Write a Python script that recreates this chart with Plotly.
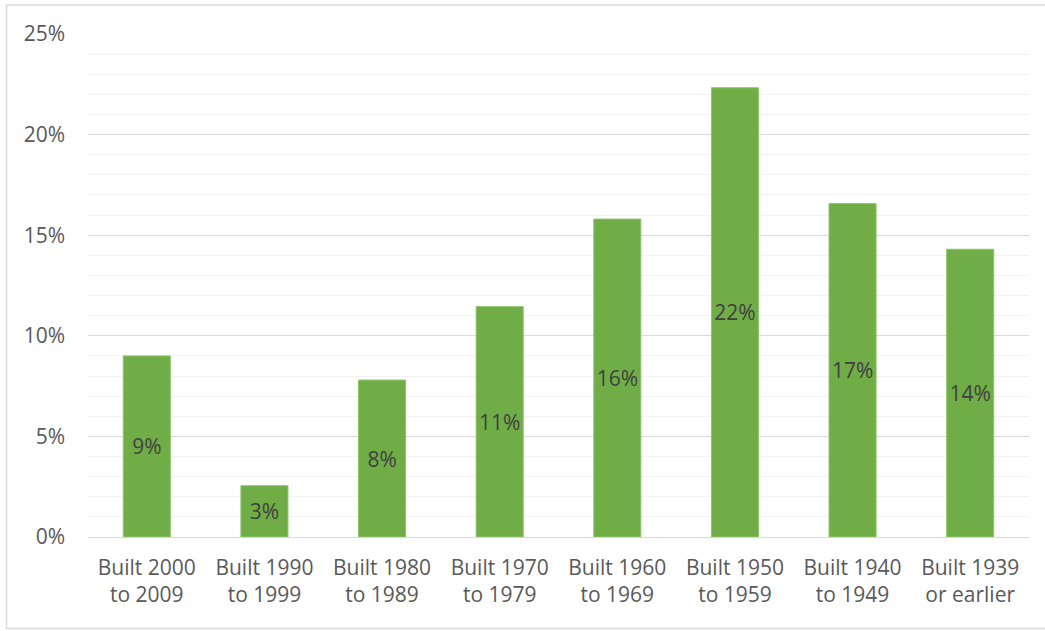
import plotly.graph_objects as go

categories = ["Built 2000<br>to 2009", "Built 1990<br>to 1999", "Built 1980<br>to 1989",
              "Built 1970<br>to 1979", "Built 1960<br>to 1969", "Built 1950<br>to 1959",
              "Built 1940<br>to 1949", "Built 1939<br>or earlier"]
shares = [0.090, 0.0255, 0.078, 0.1145, 0.158, 0.2233, 0.1657, 0.143]

FONT = "Open Sans"
FS = 21

fig = go.Figure(go.Bar(
    x=categories, y=shares,
    marker=dict(color="#70AD47", line=dict(color="#8CC46A", width=1)),
    texttemplate="%{y:.0%}", textposition="inside", insidetextanchor="middle",
    textangle=0,
    textfont=dict(family=FONT, size=FS, color="#404040"),
    constraintext="none", cliponaxis=False,
))

fig.update_layout(
    width=1045, height=631,
    margin=dict(l=88, r=16, t=34, b=94),
    paper_bgcolor="white", plot_bgcolor="white",
    bargap=0.6, showlegend=False,
    font=dict(family=FONT, size=FS, color="#595959"),
    uniformtext=dict(minsize=FS, mode="show"),
    xaxis=dict(showgrid=False, zeroline=False, showline=False, ticks="",
               ticklabelstandoff=16,
               tickfont=dict(family=FONT, size=FS, color="#595959")),
    yaxis=dict(range=[0, 0.25], dtick=0.05, tickformat=".0%",
               showgrid=True, gridcolor="#D9D9D9", gridwidth=1,
               zeroline=True, zerolinecolor="#D9D9D9", zerolinewidth=1,
               showline=False, ticks="", ticklabelstandoff=22,
               tickfont=dict(family=FONT, size=FS, color="#595959"),
               minor=dict(dtick=0.01, showgrid=True, gridcolor="#F2F2F2", gridwidth=1, ticks="")),
    shapes=[dict(type="rect", xref="paper", yref="paper",
                 x0=(6.5 - 88) / 941, x1=(1046 - 88) / 941,
                 y0=(537 - 628.5) / 503, y1=(537 - 5) / 503,
                 line=dict(color="#D9D9D9", width=1.5), fillcolor="rgba(0,0,0,0)", layer="below")],
)

fig.write_html("out.html", config={"displayModeBar": False},
               post_script="document.body.style.margin='0';document.body.style.overflow='hidden';")
